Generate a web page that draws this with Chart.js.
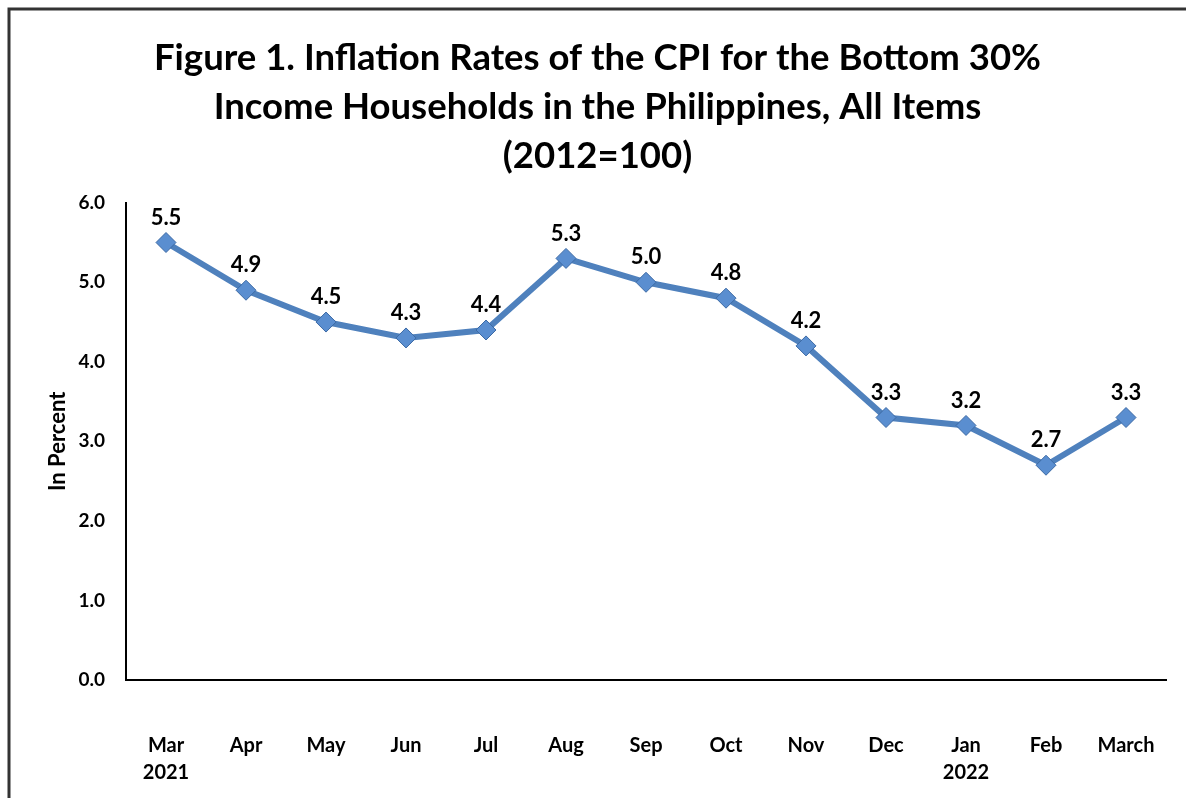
<!DOCTYPE html>
<html>
<head>
<meta charset="utf-8">
<script src="https://cdn.jsdelivr.net/npm/chart.js@4.4.0/dist/chart.umd.min.js"></script>
<style>
  html, body { margin: 0; padding: 0; background: #fff; }
  #wrap { width: 1186px; height: 798px; }
</style>
</head>
<body>
<div id="wrap"><canvas id="cpiChart" width="1186" height="798"></canvas></div>
<script>
// months shown on the x axis (year under first month of each year)
var months = [['Mar', '2021'], 'Apr', 'May', 'Jun', 'Jul', 'Aug', 'Sep', 'Oct', 'Nov', 'Dec', ['Jan', '2022'], 'Feb', 'March'];
var inflation = [5.5, 4.9, 4.5, 4.3, 4.4, 5.3, 5.0, 4.8, 4.2, 3.3, 3.2, 2.7, 3.3];
var yTicks = [0, 1, 2, 3, 4, 5, 6];

var titleLines = [
    'Figure 1. Inflation Rates of the CPI for the Bottom 30%',
    'Income Households in the Philippines, All Items',
    '(2012=100)'
];

var fontName = 'Lato, "Open Sans", sans-serif';

// white page plus the frame round the figure
var framePlugin = {
    id: 'frame',
    beforeDraw: function(chart) {
        var ctx = chart.ctx;
        ctx.save();
        ctx.fillStyle = '#fff';
        ctx.fillRect(0, 0, chart.width, chart.height);
        ctx.strokeStyle = '#333';
        ctx.lineWidth = 3;
        ctx.beginPath();
        ctx.moveTo(9, chart.height);
        ctx.lineTo(9, 9);
        ctx.lineTo(chart.width, 9);
        ctx.stroke();
        ctx.restore();
    }
};

// value labels above each point
var valueLabels = {
    id: 'valueLabels',
    afterDatasetsDraw: function(chart) {
        var ctx = chart.ctx;
        var meta = chart.getDatasetMeta(0);
        ctx.save();
        ctx.font = 'bold 22px ' + fontName;
        ctx.fillStyle = '#000';
        ctx.textAlign = 'center';
        ctx.textBaseline = 'middle';
        meta.data.forEach(function(pt, i) {
            ctx.fillText(inflation[i].toFixed(1), pt.x, pt.y - 25);
        });
        ctx.restore();
    }
};

new Chart(document.getElementById('cpiChart'), {
    type: 'line',
    data: {
        labels: months,
        datasets: [{
            data: inflation,
            borderColor: '#4f81bd',
            borderWidth: 6,
            pointStyle: 'rectRot',
            pointRadius: 10,
            pointHoverRadius: 10,
            pointBackgroundColor: '#5a8ed0',
            pointBorderColor: '#3c6aa5',
            pointBorderWidth: 1,
            tension: 0
        }]
    },
    options: {
        responsive: false,
        animation: false,
        layout: { padding: { top: 0, left: 29, right: 20, bottom: 6 } },
        plugins: {
            legend: { display: false },
            tooltip: { enabled: false },
            title: {
                display: true,
                text: titleLines,
                color: '#000',
                font: { family: fontName, size: 36.5, weight: 'bold', lineHeight: 1.34 },
                padding: { top: 34, bottom: 22 }
            }
        },
        scales: {
            x: {
                offset: true,
                afterFit: function(scale) {
                    scale.height = 112;
                    // the big tick padding should not push the plot in sideways
                    scale.paddingLeft = 0;
                    scale.paddingRight = 0;
                },
                grid: { display: false, drawTicks: false },
                border: { display: true, color: '#000', width: 2 },
                ticks: {
                    color: '#000',
                    padding: 52,
                    maxRotation: 0,
                    autoSkip: false,
                    font: { family: fontName, size: 20, weight: 'bold', lineHeight: 1.35 }
                }
            },
            y: {
                min: 0,
                max: 6,
                afterFit: function(scale) { scale.width = 97; },
                afterBuildTicks: function(scale) {
                    scale.ticks = yTicks.map(function(v) { return { value: v }; });
                },
                grid: { display: false, drawTicks: false },
                border: { display: true, color: '#000', width: 2 },
                ticks: {
                    color: '#000',
                    padding: 21,
                    font: { family: fontName, size: 19, weight: 'bold' },
                    callback: function(v) { return v.toFixed(1); }
                },
                title: {
                    display: true,
                    text: 'In Percent',
                    color: '#000',
                    font: { family: fontName, size: 22, weight: 'bold' },
                    padding: { top: 16 }
                }
            }
        }
    },
    plugins: [framePlugin, valueLabels]
});
</script>
</body>
</html>
